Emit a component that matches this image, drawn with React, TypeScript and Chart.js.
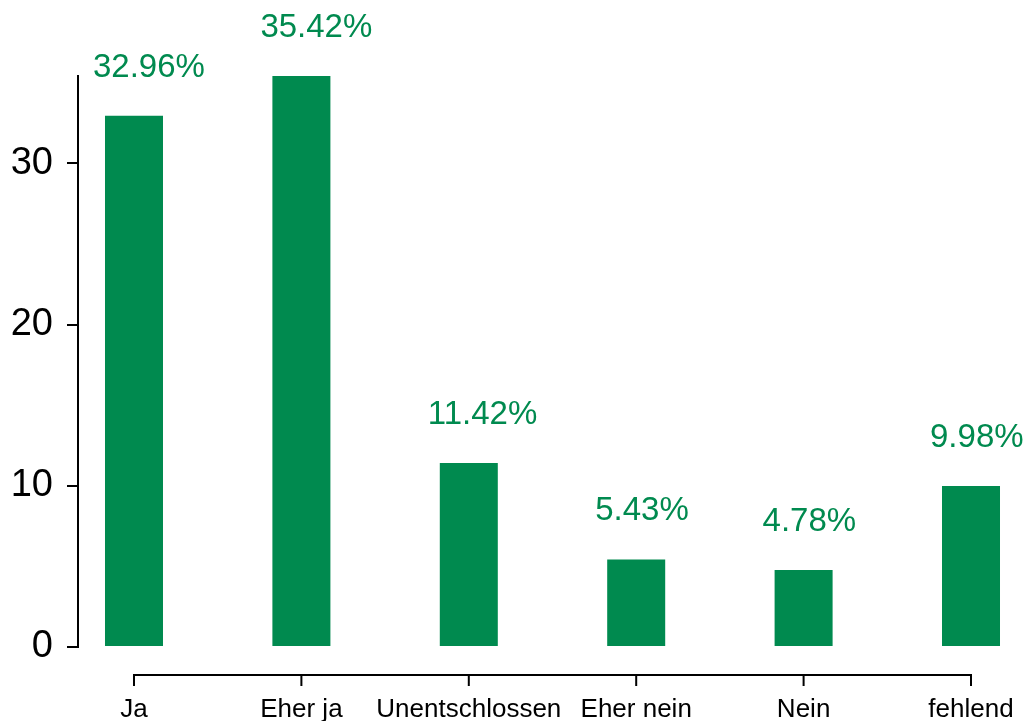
import React, { useEffect, useRef } from "react";
import { Chart, registerables } from "chart.js";

Chart.register(...registerables);

const categories = ["Ja", "Eher ja", "Unentschlossen", "Eher nein", "Nein", "fehlend"];
const percentages = [32.96, 35.42, 11.42, 5.43, 4.78, 9.98];
const yTicks = [0, 10, 20, 30];

const GREEN = "rgb(0,138,79)";
const FONT = "'Liberation Sans', Arial, Helvetica, sans-serif";

const xAxisPlugin = {
  id: "xAxisLine",
  afterDraw(chart: any) {
    const xs = chart.scales.x;
    const ctx = chart.ctx;
    const y = chart.chartArea.bottom + 28;
    const x0 = xs.getPixelForValue(0);
    const x1 = xs.getPixelForValue(categories.length - 1);
    ctx.save();
    ctx.strokeStyle = "#000";
    ctx.lineWidth = 2;
    ctx.beginPath();
    ctx.moveTo(x0 - 1, y);
    ctx.lineTo(x1 + 1, y);
    for (let i = 0; i < categories.length; i++) {
      const px = xs.getPixelForValue(i);
      ctx.moveTo(px, y);
      ctx.lineTo(px, y + 11);
    }
    ctx.stroke();
    ctx.restore();
  },
};

const valueLabelPlugin = {
  id: "valueLabels",
  afterDatasetsDraw(chart: any) {
    const ctx = chart.ctx;
    const meta = chart.getDatasetMeta(0);
    ctx.save();
    ctx.fillStyle = GREEN;
    ctx.font = `33px ${FONT}`;
    ctx.textAlign = "left";
    ctx.textBaseline = "alphabetic";
    meta.data.forEach((bar: any, i: number) => {
      const txt = percentages[i].toFixed(2) + "%";
      ctx.fillText(txt, bar.x - 41, bar.y - 39);
    });
    ctx.restore();
  },
};

export default function App() {
  const ref = useRef<HTMLCanvasElement>(null);

  useEffect(() => {
    if (!ref.current) return;
    const chart = new Chart(ref.current, {
      type: "bar",
      data: {
        datasets: [
          {
            data: percentages.map((v, i) => ({ x: i, y: v })),
            backgroundColor: GREEN,
            borderWidth: 0,
            categoryPercentage: 1,
            barPercentage: 0.3465,
          },
        ],
      },
      options: {
        animation: false,
        responsive: false,
        maintainAspectRatio: false,
        layout: { padding: { top: 76, right: 7, bottom: 0, left: 0 } },
        plugins: { legend: { display: false }, tooltip: { enabled: false } },
        scales: {
          x: {
            type: "linear",
            offset: false,
            min: -0.3345,
            max: 5.2927,
            afterBuildTicks: (scale: any) => {
              scale.ticks = categories.map((_, i) => ({ value: i }));
            },
            afterFit: (scale: any) => {
              scale.height = 74;
              scale.paddingLeft = 0;
              scale.paddingRight = 0;
            },
            grid: { display: false, drawTicks: false, offset: false },
            border: { display: false },
            ticks: {
              autoSkip: false,
              maxRotation: 0,
              minRotation: 0,
              padding: 47,
              color: "#000",
              font: { family: FONT, size: 26 },
              callback: (v: any) => categories[Number(v)] ?? "",
            },
          },
          y: {
            type: "linear",
            min: 0,
            max: 35.42,
            afterBuildTicks: (scale: any) => {
              scale.ticks = yTicks.map((v) => ({ value: v }));
            },
            afterFit: (scale: any) => {
              scale.width = 78;
              scale.paddingTop = 0;
              scale.paddingBottom = 0;
            },
            border: { display: true, color: "#000", width: 2 },
            grid: {
              drawOnChartArea: false,
              drawTicks: true,
              tickLength: 11,
              color: "#000",
              lineWidth: 2,
            },
            ticks: {
              padding: 14,
              color: "#000",
              font: { family: FONT, size: 38 },
            },
          },
        },
      },
      plugins: [xAxisPlugin, valueLabelPlugin],
    } as any);
    return () => chart.destroy();
  }, []);

  return (
    <div style={{ position: "absolute", left: 0, top: 0, width: 1027, height: 721, background: "#fff" }}>
      <canvas ref={ref} width={1027} height={721} style={{ display: "block" }} />
    </div>
  );
}
